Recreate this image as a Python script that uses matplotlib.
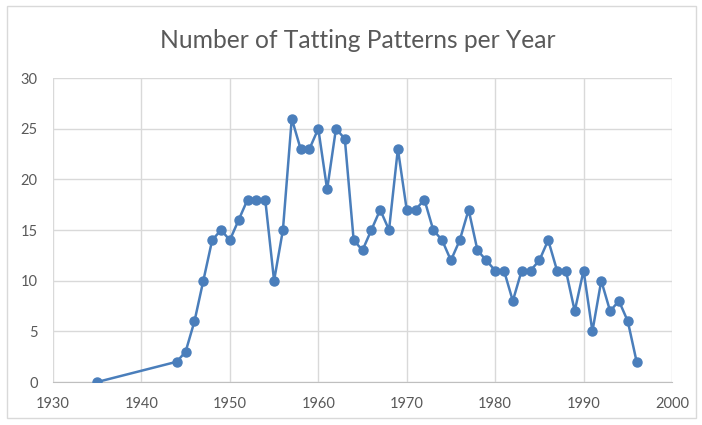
import matplotlib.pyplot as plt
from matplotlib.patches import Rectangle

years = [1935, 1944, 1945, 1946, 1947, 1948, 1949, 1950, 1951, 1952,
         1953, 1954, 1955, 1956, 1957, 1958, 1959, 1960, 1961, 1962,
         1963, 1964, 1965, 1966, 1967, 1968, 1969, 1970, 1971, 1972,
         1973, 1974, 1975, 1976, 1977, 1978, 1979, 1980, 1981, 1982,
         1983, 1984, 1985, 1986, 1987, 1988, 1989, 1990, 1991, 1992,
         1993, 1994, 1995, 1996]
patterns = [0, 2, 3, 6, 10, 14, 15, 14, 16, 18,
            18, 18, 10, 15, 26, 23, 23, 25, 19, 25,
            24, 14, 13, 15, 17, 15, 23, 17, 17, 18,
            15, 14, 12, 14, 17, 13, 12, 11, 11, 8,
            11, 11, 12, 14, 11, 11, 7, 11, 5, 10,
            7, 8, 6, 2]
x_ticks = [1930, 1940, 1950, 1960, 1970, 1980, 1990, 2000]
y_ticks = [0, 5, 10, 15, 20, 25, 30]

plt.rcParams['font.family'] = ['Lato', 'DejaVu Sans']
text_grey = '#595959'
grid_grey = '#d9d9d9'

fig = plt.figure(figsize=(7.02, 4.25), dpi=100)
fig.patches.append(Rectangle((7 / 702, 1 - 418 / 425), 689 / 702, 412 / 425,
                             transform=fig.transFigure, fill=False,
                             edgecolor=grid_grey, linewidth=1))

ax = fig.add_axes([53 / 702, 1 - 382 / 425, 619 / 702, 304 / 425])
ax.plot(years, patterns, color='#4a7ebb', linewidth=1.8, marker='o',
        markersize=6.5, zorder=3)

ax.set_xlim(1930, 2000)
ax.set_ylim(0, 30)
ax.set_xticks(x_ticks)
ax.set_yticks(y_ticks)
ax.grid(True, color=grid_grey, linewidth=1)
ax.set_axisbelow(True)
for side in ['top', 'right', 'left']:
    ax.spines[side].set_visible(False)
ax.spines['bottom'].set_color('#bfbfbf')
ax.tick_params(length=0, labelsize=10.5, colors=text_grey)
ax.tick_params(axis='x', pad=11)
ax.tick_params(axis='y', pad=11)

fig.text(0.51, 1 - 40 / 425, 'Number of Tatting Patterns per Year',
         ha='center', va='center', fontsize=17.7, color=text_grey)

fig.savefig('out.png', dpi=100)
